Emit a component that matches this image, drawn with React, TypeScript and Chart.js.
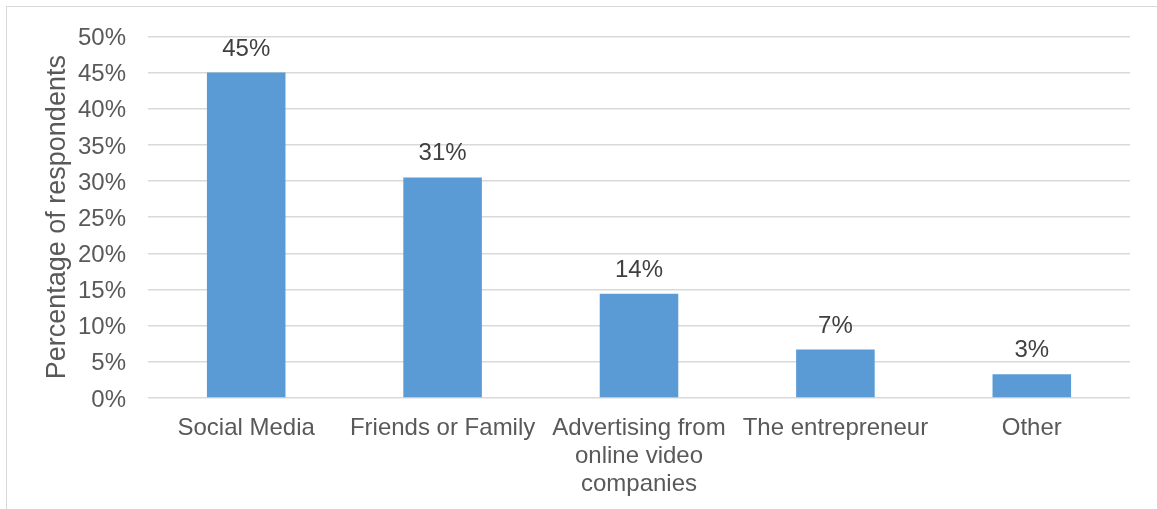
import React, { useEffect, useRef } from "react";
import { Chart, registerables } from "chart.js";

Chart.register(...registerables);

const categories: (string | string[])[] = [
  "Social Media",
  "Friends or Family",
  ["Advertising from", "online video", "companies"],
  "The entrepreneur",
  "Other",
];
const values = [45, 30.5, 14.4, 6.7, 3.3];
const yMin = 0;
const yMax = 50;
const yStep = 5;
const yTitle = "Percentage of respondents";

const FONT = "'Liberation Sans', Arial, sans-serif";

const valueLabels = {
  id: "valueLabels",
  afterDatasetsDraw(chart: any) {
    const ctx = chart.ctx;
    const meta = chart.getDatasetMeta(0);
    ctx.save();
    ctx.font = `24px ${FONT}`;
    ctx.fillStyle = "#404040";
    ctx.textAlign = "center";
    ctx.textBaseline = "alphabetic";
    meta.data.forEach((el: any, i: number) => {
      ctx.fillText(Math.round(values[i]) + "%", el.x, el.y - 17);
    });
    ctx.restore();
  },
};

export default function App() {
  const ref = useRef<HTMLCanvasElement>(null);
  useEffect(() => {
    if (!ref.current) return;
    const chart = new Chart(ref.current, {
      type: "bar",
      data: {
        labels: categories as any,
        datasets: [
          {
            data: values,
            backgroundColor: "#5B9BD5",
            borderWidth: 0,
            barPercentage: 0.4,
            categoryPercentage: 1,
          },
        ],
      },
      options: {
        animation: false,
        responsive: false,
        devicePixelRatio: 1,
        layout: { padding: { left: 37, top: 36, right: 27, bottom: 0 } },
        plugins: {
          legend: { display: false },
          tooltip: { enabled: false },
        },
        scales: {
          x: {
            grid: { display: false, drawTicks: false },
            border: { display: false },
            ticks: {
              color: "#595959",
              font: { family: FONT, size: 24, lineHeight: 1.18 },
              padding: 16,
              maxRotation: 0,
              autoSkip: false,
            },
            afterFit(scale: any) {
              scale.height = 111;
            },
          },
          y: {
            min: yMin,
            max: yMax,
            grid: { color: "#d9d9d9", lineWidth: 1.5, drawTicks: false },
            border: { display: false },
            ticks: {
              stepSize: yStep,
              color: "#595959",
              font: { family: FONT, size: 24 },
              padding: 22,
              labelOffset: 2,
              callback: (v: any) => v + "%",
            },
            title: {
              display: true,
              text: yTitle,
              color: "#595959",
              font: { family: FONT, size: 27 },
              padding: { top: 4, bottom: 4 },
            },
            afterFit(scale: any) {
              scale.width = 111;
            },
          },
        },
      },
      plugins: [valueLabels],
    });
    return () => chart.destroy();
  }, []);

  return (
    <div style={{ position: "absolute", left: 0, top: 0, width: 1157, height: 509, overflow: "hidden", background: "#fff" }}>
      <div
        style={{
          position: "absolute",
          left: 6,
          top: 6,
          width: 1200,
          height: 600,
          border: "1.5px solid #d9d9d9",
        }}
      />
      <canvas ref={ref} width={1157} height={509} style={{ position: "absolute", left: 0, top: 0 }} />
    </div>
  );
}
